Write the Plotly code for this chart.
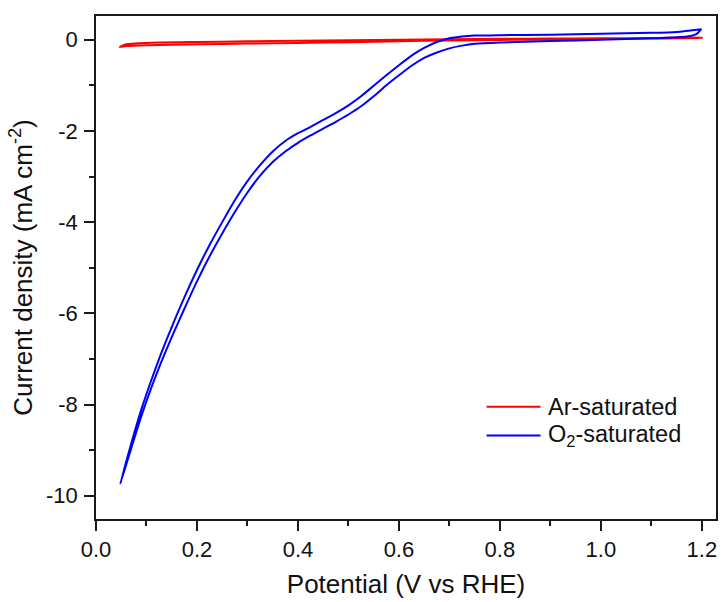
import plotly.graph_objects as go

# Ar-saturated CV (two branches)
ar_x_lower = [0.047, 0.06, 0.1, 0.2, 0.3, 0.4, 0.5, 0.6, 0.7, 0.8, 0.9, 1.0, 1.1, 1.2]
ar_y_lower = [-0.16, -0.14, -0.12, -0.10, -0.085, -0.07, -0.055, -0.035, -0.015, -0.005, 0.005, 0.015, 0.025, 0.04]
ar_x_upper = [1.2, 1.1, 1.0, 0.9, 0.8, 0.7, 0.6, 0.5, 0.4, 0.3, 0.2, 0.1, 0.06, 0.047]
ar_y_upper = [0.045, 0.035, 0.03, 0.025, 0.02, 0.01, 0.0, -0.01, -0.02, -0.035, -0.05, -0.07, -0.10, -0.16]

# O2-saturated CV (two branches)
o2_x_upper = [0.048, 0.07, 0.09, 0.11, 0.13, 0.15, 0.175, 0.2, 0.225, 0.25, 0.275, 0.3,
              0.325, 0.35, 0.375, 0.4, 0.425, 0.45, 0.475, 0.5, 0.525, 0.55, 0.575, 0.6,
              0.625, 0.65, 0.675, 0.7, 0.725, 0.75, 0.8, 0.9, 1.0, 1.1, 1.15, 1.199]
o2_y_upper = [-9.74, -8.85, -8.10, -7.45, -6.85, -6.30, -5.65, -5.05, -4.50, -4.00, -3.52, -3.10,
              -2.75, -2.45, -2.22, -2.05, -1.91, -1.76, -1.61, -1.44, -1.24, -1.01, -0.78, -0.56,
              -0.35, -0.18, -0.05, 0.03, 0.07, 0.09, 0.10, 0.11, 0.13, 0.15, 0.17, 0.23]
o2_x_lower = [1.199, 1.19, 1.17, 1.1, 1.0, 0.9, 0.8, 0.75, 0.725, 0.7, 0.675, 0.65, 0.625, 0.6,
              0.575, 0.55, 0.525, 0.5, 0.475, 0.45, 0.425, 0.4, 0.375, 0.35, 0.325, 0.3,
              0.275, 0.25, 0.225, 0.2, 0.175, 0.15, 0.13, 0.11, 0.09, 0.07, 0.048]
o2_y_lower = [0.23, 0.13, 0.07, 0.03, 0.0, -0.03, -0.06, -0.09, -0.13, -0.19, -0.28, -0.40, -0.57, -0.78,
              -1.00, -1.24, -1.46, -1.64, -1.80, -1.95, -2.10, -2.26, -2.45, -2.68, -2.98, -3.35,
              -3.78, -4.25, -4.75, -5.30, -5.90, -6.52, -7.05, -7.62, -8.25, -8.95, -9.74]

x_ticks = [0.0, 0.2, 0.4, 0.6, 0.8, 1.0, 1.2]
x_ticklabels = ["0.0", "0.2", "0.4", "0.6", "0.8", "1.0", "1.2"]
y_ticks = [0, -2, -4, -6, -8, -10]
y_ticklabels = ["0", "-2", "-4", "-6", "-8", "-10"]

series_names = ["Ar-saturated", "O<sub>2</sub>-saturated"]
series_colors = ["#ff0000", "#0000ff"]

FONT = "Arial, Liberation Sans, sans-serif"
TXT = "#111111"
AX = "#1a1a1a"

fig = go.Figure()
fig.add_trace(go.Scatter(
    x=ar_x_lower + ar_x_upper, y=ar_y_lower + ar_y_upper,
    mode="lines", name=series_names[0], showlegend=False,
    line=dict(color=series_colors[0], width=2, shape="spline", smoothing=0.6)))
fig.add_trace(go.Scatter(
    x=o2_x_upper + o2_x_lower, y=o2_y_upper + o2_y_lower,
    mode="lines", name=series_names[1], showlegend=False,
    line=dict(color=series_colors[1], width=2, shape="spline", smoothing=0.6)))

axis_common = dict(
    showgrid=False, zeroline=False, showline=True, linecolor=AX, linewidth=1.6,
    mirror=True, ticks="outside", ticklen=10, tickwidth=1.5, tickcolor=AX,
    tickfont=dict(family=FONT, size=22, color=TXT),
)

fig.update_xaxes(
    **axis_common, range=[0, 1.228], tickvals=x_ticks, ticktext=x_ticklabels,
    minor=dict(dtick=0.1, ticks="outside", ticklen=5, tickwidth=1.5, tickcolor=AX),
    title=dict(text="Potential (V vs RHE)", font=dict(family=FONT, size=26, color=TXT), standoff=14),
)
fig.update_yaxes(
    **axis_common, range=[-10.51, 0.52], tickvals=y_ticks, ticktext=y_ticklabels,
    minor=dict(dtick=1, ticks="outside", ticklen=5, tickwidth=1.5, tickcolor=AX),
    ticklabelstandoff=2,
    title=dict(text="Current density (mA cm<sup>-2</sup>)", font=dict(family=FONT, size=26, color=TXT), standoff=6),
)

# Legend drawn as sample lines + labels (paper coordinates)
legend_x0, legend_x1, legend_tx = 0.630, 0.717, 0.726
legend_rows = [0.223, 0.166]
for name, color, yrow in zip(series_names, series_colors, legend_rows):
    fig.add_shape(type="line", xref="paper", yref="paper",
                  x0=legend_x0, x1=legend_x1, y0=yrow, y1=yrow,
                  line=dict(color=color, width=2))
    fig.add_annotation(xref="paper", yref="paper", x=legend_tx, y=yrow,
                       xanchor="left", yanchor="middle", showarrow=False,
                       text=name, font=dict(family=FONT, size=23.5, color=TXT))

fig.update_layout(
    width=724, height=602,
    margin=dict(l=96, r=6, t=16, b=83),
    paper_bgcolor="white", plot_bgcolor="white",
    showlegend=False,
)

fig.write_html("out.html")
